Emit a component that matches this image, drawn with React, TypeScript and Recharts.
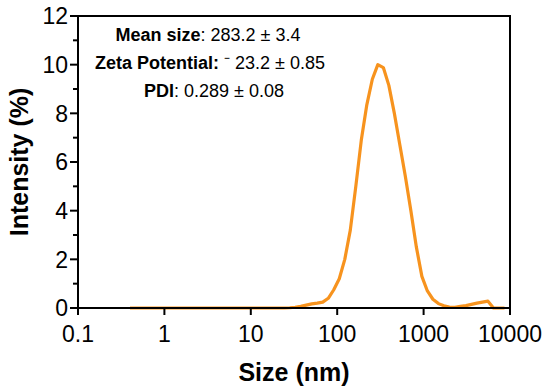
import { Line, LineChart, ReferenceArea, XAxis, YAxis } from "recharts";

// Malvern size bins (nm) and intensity (%)
const sizes = [
  0.4, 0.4632, 0.5365, 0.6213, 0.7195, 0.8332, 0.9649, 1.117, 1.294, 1.499,
  1.736, 2.01, 2.328, 2.696, 3.122, 3.615, 4.187, 4.849, 5.615, 6.503, 7.531,
  8.721, 10.1, 11.7, 13.54, 15.69, 18.17, 21.04, 24.36, 28.21, 32.67, 37.84,
  43.82, 50.75, 58.77, 68.06, 78.82, 91.28, 105.7, 122.4, 141.8, 164.2, 190.1,
  220.2, 255.0, 295.3, 342.0, 396.1, 458.7, 531.2, 615.1, 712.4, 825.0, 955.4,
  1106, 1281, 1484, 1718, 1990, 2305, 2669, 3091, 3580, 4145, 4801, 5560, 6439,
  7456, 8635,
];

const intensity = [
  0, 0, 0, 0, 0, 0, 0, 0, 0, 0, 0, 0, 0, 0, 0, 0, 0, 0, 0, 0, 0, 0, 0, 0, 0, 0,
  0, 0, 0, 0.01, 0.03, 0.07, 0.12, 0.17, 0.2, 0.24, 0.4, 0.75, 1.2, 2.0, 3.2,
  5.0, 6.9, 8.35, 9.4, 10.0, 9.88, 9.15, 8.0, 6.7, 5.4, 4.0, 2.5, 1.3, 0.7,
  0.36, 0.18, 0.09, 0.04, 0.03, 0.07, 0.1, 0.15, 0.2, 0.24, 0.28, 0, 0, 0,
];

const xTicks = [0.1, 1, 10, 100, 1000, 10000];
const yTicks = [0, 1, 2, 3, 4, 5, 6, 7, 8, 9, 10, 11, 12];

const data = sizes.map((size, i) => ({ size, intensity: intensity[i] }));

const FONT = "'Liberation Sans', Arial, Helvetica, sans-serif";
const ORANGE = "#F7931E";

// y ticks: long tick + label on even values, short tick on odd ones
function YTick(props: any) {
  const { x, y, payload } = props;
  const v = payload.value;
  const major = v % 2 === 0;
  const axisX = x + 10;
  return (
    <g>
      <line
        x1={axisX - (major ? 8 : 5)}
        x2={axisX}
        y1={y}
        y2={y}
        stroke="#000"
        strokeWidth={2}
      />
      {major && (
        <text
          x={x}
          y={y}
          dy="0.36em"
          textAnchor="end"
          fontSize={23}
          fontFamily={FONT}
          fill="#000"
        >
          {v}
        </text>
      )}
    </g>
  );
}

const annotationLine: React.CSSProperties = {
  position: "absolute",
  whiteSpace: "nowrap",
  transform: "translateX(-50%)",
  fontSize: 18,
  lineHeight: "18px",
  color: "#000",
};

export default function App() {
  return (
    <div
      style={{ position: "relative", width: 550, height: 389, fontFamily: FONT, background: "#fff" }}
    >
      <style>{"body{margin:0}"}</style>
      <LineChart
        width={550}
        height={389}
        data={data}
        margin={{ top: 16, right: 40, bottom: 0, left: 0 }}
      >
        <XAxis
          dataKey="size"
          type="number"
          scale="log"
          domain={[0.1, 10000]}
          ticks={xTicks}
          allowDataOverflow
          height={81}
          tickSize={7}
          tickMargin={11}
          axisLine={{ stroke: "#000", strokeWidth: 2 }}
          tickLine={{ stroke: "#000", strokeWidth: 2 }}
          tick={{ fill: "#000", fontSize: 23, fontFamily: FONT }}
          label={{
            value: "Size (nm)",
            position: "insideBottom",
            offset: 8,
            fill: "#000",
            fontSize: 25,
            fontWeight: "bold",
            fontFamily: FONT,
          }}
        />
        <YAxis
          type="number"
          domain={[0, 12]}
          ticks={yTicks}
          interval={0}
          width={78}
          tickSize={8}
          tickMargin={2}
          tickLine={false}
          axisLine={{ stroke: "#000", strokeWidth: 2 }}
          tick={<YTick />}
          label={{
            value: "Intensity (%)",
            angle: -90,
            position: "insideLeft",
            offset: 19,
            fill: "#000",
            fontSize: 25,
            fontWeight: "bold",
            fontFamily: FONT,
            style: { textAnchor: "middle" },
          }}
        />
        <ReferenceArea
          x1={0.1}
          x2={10000}
          y1={0}
          y2={12}
          fill="none"
          fillOpacity={0}
          stroke="#000"
          strokeWidth={2}
          ifOverflow="visible"
        />
        <Line
          type="linear"
          dataKey="intensity"
          stroke={ORANGE}
          strokeWidth={3.2}
          strokeLinejoin="round"
          dot={false}
          activeDot={false}
          isAnimationActive={false}
        />
      </LineChart>
      <div style={{ ...annotationLine, left: 208, top: 26 }}>
        <b>Mean size</b>: 283.2 ± 3.4
      </div>
      <div style={{ ...annotationLine, left: 210, top: 54 }}>
        <b>Zeta Potential:</b> ⁻ 23.2 ± 0.85
      </div>
      <div style={{ ...annotationLine, left: 214, top: 82 }}>
        <b>PDI</b>: 0.289 ± 0.08
      </div>
    </div>
  );
}
